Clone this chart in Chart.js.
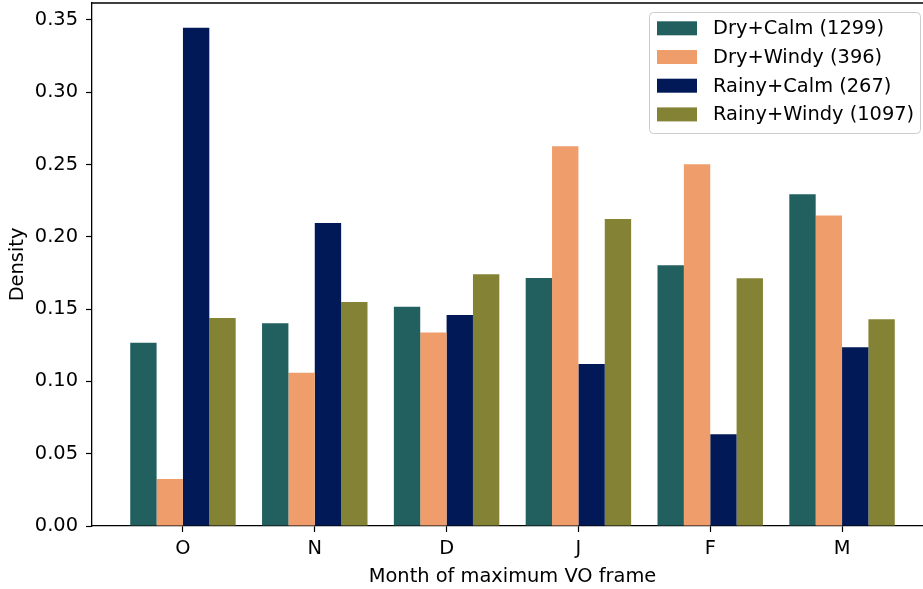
<!DOCTYPE html>
<html>
<head>
<meta charset="utf-8">
<script src="https://cdn.jsdelivr.net/npm/chart.js@4/dist/chart.umd.min.js"></script>
<style>
  html, body { margin: 0; padding: 0; background: #fff; overflow: hidden; }
  canvas { display: block; }
</style>
</head>
<body>
<canvas id="c" width="940" height="589" style="width:940px;height:589px"></canvas>
<script>
// Month of the maximum VO frame (October to March)
const months = ['O', 'N', 'D', 'J', 'F', 'M'];

// Density per month for each weather regime
const dryCalm    = [0.1268, 0.1402, 0.1517, 0.1716, 0.1803, 0.2295];
const dryWindy   = [0.0325, 0.1060, 0.1339, 0.2626, 0.2501, 0.2147];
const rainyCalm  = [0.3446, 0.2096, 0.1459, 0.1120, 0.0634, 0.1237];
const rainyWindy = [0.1438, 0.1549, 0.1741, 0.2123, 0.1713, 0.1430];

const seriesLabels = ['Dry+Calm (1299)', 'Dry+Windy (396)', 'Rainy+Calm (267)', 'Rainy+Windy (1097)'];
const seriesColors = ['#22605f', '#f09d6c', '#011a57', '#848335'];

const yTicks = [0, 0.05, 0.10, 0.15, 0.20, 0.25, 0.30, 0.35];

const FONT = "'DejaVu Sans', 'Liberation Sans', sans-serif";
const FS = 19.4;

const allSeries = [dryCalm, dryWindy, rainyCalm, rainyWindy];
const datasets = allSeries.map((vals, k) => ({
  label: seriesLabels[k],
  data: vals.map((v, i) => ({ x: i, y: v })),
  backgroundColor: seriesColors[k],
  borderWidth: 0,
  categoryPercentage: 0.8,
  barPercentage: 1.0
}));

// Top spine and boxed legend in the upper right corner
const framePlugin = {
  id: 'frame',
  afterDraw(chart) {
    const { ctx, chartArea: a } = chart;
    ctx.save();
    ctx.strokeStyle = '#000';
    ctx.lineWidth = 1.3;
    ctx.beginPath();
    ctx.moveTo(a.left, a.top);
    ctx.lineTo(a.right, a.top);
    ctx.stroke();

    // legend
    const bx = 649.5, by = 12.5, bw = 271, bh = 121, r = 4;
    ctx.beginPath();
    ctx.moveTo(bx + r, by);
    ctx.lineTo(bx + bw - r, by);
    ctx.quadraticCurveTo(bx + bw, by, bx + bw, by + r);
    ctx.lineTo(bx + bw, by + bh - r);
    ctx.quadraticCurveTo(bx + bw, by + bh, bx + bw - r, by + bh);
    ctx.lineTo(bx + r, by + bh);
    ctx.quadraticCurveTo(bx, by + bh, bx, by + bh - r);
    ctx.lineTo(bx, by + r);
    ctx.quadraticCurveTo(bx, by, bx + r, by);
    ctx.closePath();
    ctx.fillStyle = 'rgba(255,255,255,0.8)';
    ctx.fill();
    ctx.strokeStyle = '#cccccc';
    ctx.lineWidth = 1;
    ctx.stroke();

    ctx.font = FS + 'px ' + FONT;
    ctx.textBaseline = 'middle';
    ctx.textAlign = 'left';
    chart.data.datasets.forEach((ds, k) => {
      const cy = 28.3 + k * 28.7;
      ctx.fillStyle = ds.backgroundColor;
      ctx.fillRect(657, cy - 7, 40, 14);
      ctx.fillStyle = '#000';
      ctx.fillText(ds.label, 713, cy + 1);
    });
    ctx.restore();
  }
};

new Chart(document.getElementById('c'), {
  type: 'bar',
  data: { datasets },
  plugins: [framePlugin],
  options: {
    responsive: false,
    animation: false,
    devicePixelRatio: 1,
    layout: { padding: { top: 3, right: 7, left: 0, bottom: 0 } },
    plugins: { legend: { display: false }, tooltip: { enabled: false } },
    scales: {
      x: {
        type: 'linear',
        offset: false,
        min: -0.69,
        max: 5.69,
        afterBuildTicks(s) { s.ticks = months.map((m, i) => ({ value: i })); },
        afterFit(s) { s.height = 63; s.paddingLeft = 0; s.paddingRight = 0; },
        grid: { offset: false, drawOnChartArea: false, drawTicks: true, tickLength: 6, tickColor: '#000', tickWidth: 1.2 },
        border: { display: true, color: '#000', width: 1.3 },
        ticks: {
          color: '#000',
          padding: 5,
          font: { family: FONT, size: FS },
          maxRotation: 0,
          autoSkip: false,
          callback: (v) => months[Math.round(v)] ?? ''
        },
        title: {
          display: true,
          text: 'Month of maximum VO frame',
          color: '#000',
          font: { family: FONT, size: FS },
          padding: { top: 0, bottom: 0 }
        }
      },
      y: {
        min: 0,
        max: 0.3617,
        afterBuildTicks(s) { s.ticks = yTicks.map(v => ({ value: v })); },
        afterFit(s) { s.width = 92; s.paddingTop = 0; s.paddingBottom = 0; },
        grid: { drawOnChartArea: false, drawTicks: true, tickLength: 6, tickColor: '#000', tickWidth: 1.2 },
        border: { display: true, color: '#000', width: 1.3 },
        ticks: {
          color: '#000',
          padding: 8,
          font: { family: FONT, size: FS },
          callback: (v) => v.toFixed(2)
        },
        title: {
          display: true,
          text: 'Density',
          color: '#000',
          font: { family: FONT, size: FS },
          padding: { top: 6, bottom: 0 }
        }
      }
    }
  }
});
</script>
</body>
</html>
